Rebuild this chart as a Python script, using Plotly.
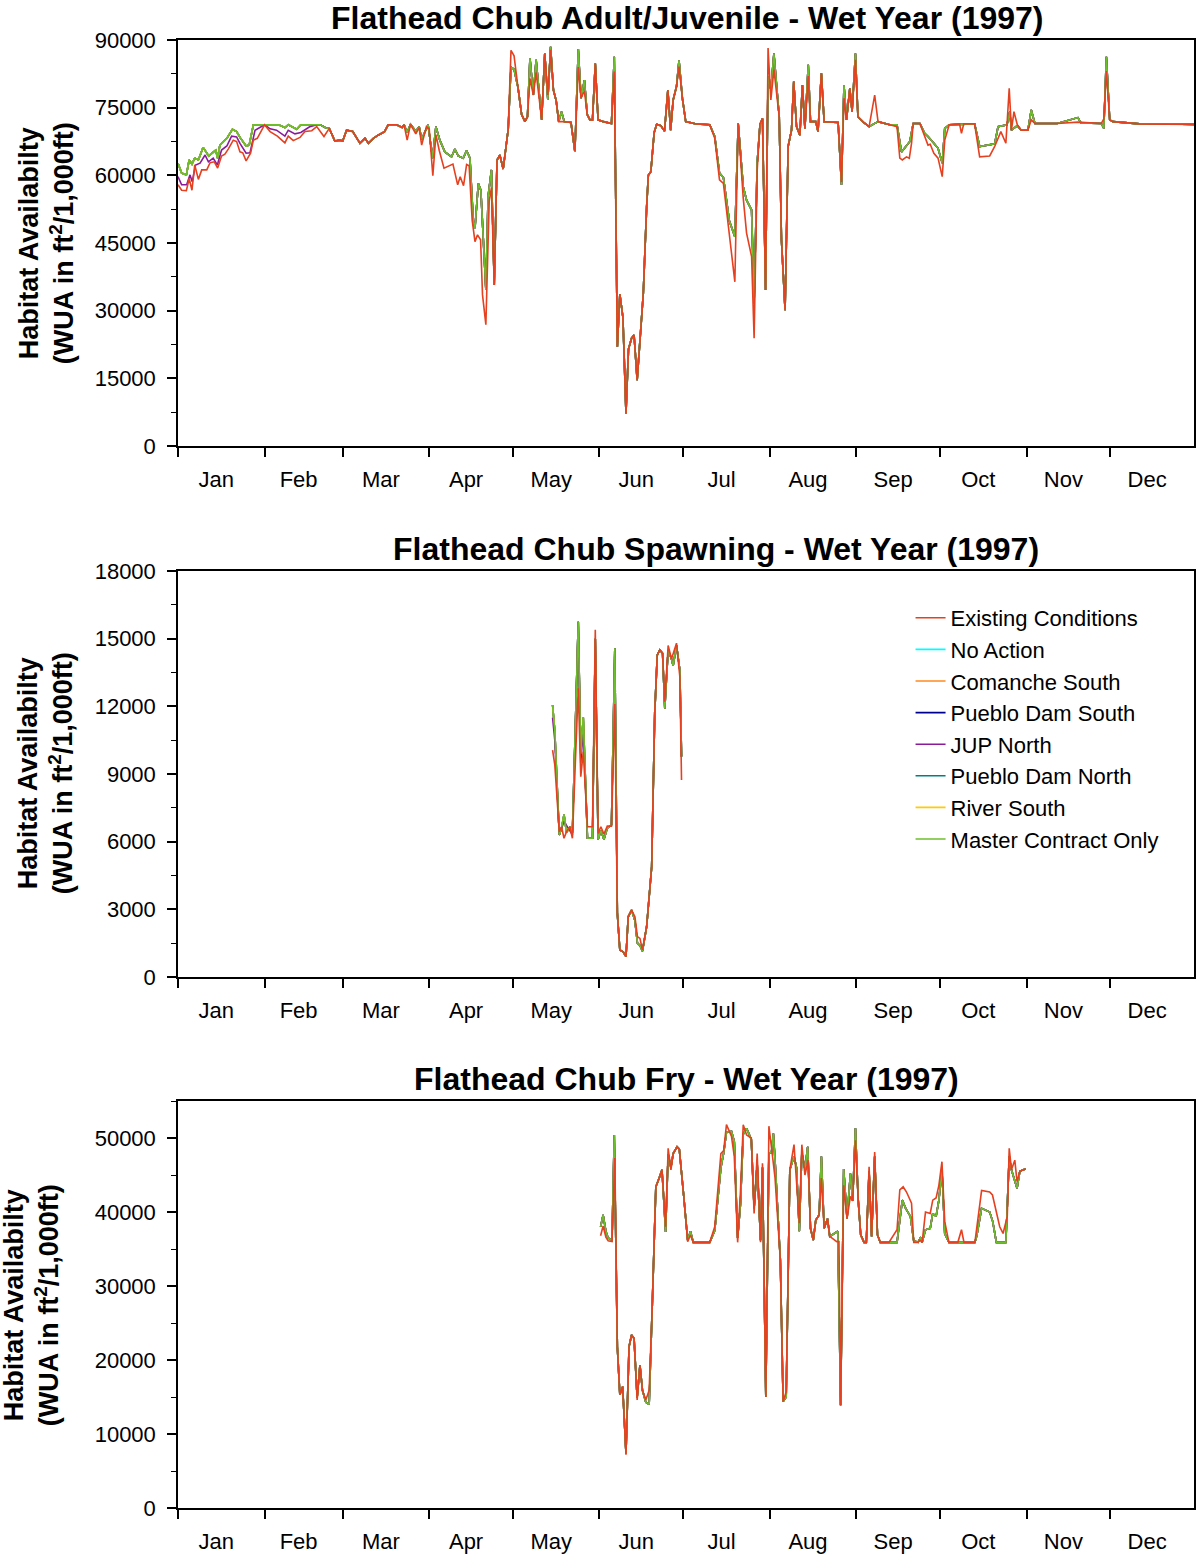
import pandas as pd
import plotly.graph_objects as go

FONT = "Liberation Sans, Arial, sans-serif"
YEAR_START = "1997-01-01"
YEAR_END = "1997-12-31"

SERIES_NAMES = ["Existing Conditions", "No Action", "Comanche South", "Pueblo Dam South",
                "JUP North", "Pueblo Dam North", "River South", "Master Contract Only"]
SERIES_COLORS = ["#E5401F", "#00FFFF", "#FF8A1E", "#000090",
                 "#8B1A9B", "#008080", "#FFCC00", "#6CBF2A"]

TITLES = ["Flathead Chub Adult/Juvenile - Wet Year (1997)",
          "Flathead Chub Spawning - Wet Year (1997)",
          "Flathead Chub Fry - Wet Year (1997)"]

# ---------------- Panel 1: Adult/Juvenile (day of year, WUA) ----------------
AJ_EC_DAY = [0, 1.3, 3, 4, 5, 6, 7.3, 8.5, 10.3, 11.5, 13, 14.2, 15.6, 16.8, 18, 19.8, 21, 22.2, 23.2, 24.4,
             26, 27, 28.4, 31, 33, 35.6, 38.3, 39.5, 41.3, 43.7, 45.5, 47.9, 49.7, 52.3, 54.2, 56.2, 58, 59,
             60.4, 62.6, 65.2, 67, 68.2, 70, 71.7, 74, 75.3, 78.3, 80.3, 81, 82.1, 83.3, 85.2, 86.4, 87.3, 89,
             90, 91.3, 92.4, 93.6, 95.3, 98.5, 100.2, 101.1, 102.3, 103.4, 104.3, 105.4, 106.4, 107.3, 108.4,
             109.1, 110.3, 111.5, 112.3, 113.3, 114.3, 115.3, 116.5, 117.4, 118.3, 119.3, 120.4, 121.8, 123.1,
             124.3, 125.2, 126.1, 127.3, 128.3, 130.3, 131.4, 132.5, 133.5, 134.5, 135.5, 136.4, 138.4, 140.8,
             142.2, 143.4, 144.4, 145.6, 146.6, 147.6, 148.5, 149.5, 150.5, 152.4, 155.3, 156.3, 157.4, 158.3,
             159.4, 160.5, 161.4, 162.5, 163.4, 164.5, 165.8, 166.7, 167.9, 168.5, 169.4, 170.6, 171.5, 173,
             174.3, 175.5, 176.5, 177.4, 178.6, 179.5, 180.7, 181.9, 185.7, 190.5, 192.3, 194, 195.4, 197.5,
             199.5, 200.7, 202.5, 203.7, 205.5, 206.4, 207.5, 208.5, 209.4, 210.5, 211.4, 212.4, 213.5, 215.4,
             216.2, 217.5, 218.6, 219.8, 220.6, 221.6, 222.8, 223.7, 224.6, 225.8, 226.6, 228.5, 229.3, 230.5,
             231.5, 236.5, 237.7, 238.6, 239.5, 240.7, 241.5, 242.7, 243.6, 245.5, 247.6, 249.6, 250.8, 255,
             257.6, 258.6, 259.5, 261, 262, 262.8, 263.4, 265.8, 267.5, 268.7, 269.5, 270.8, 272.3, 273.8,
             274.7, 276.3, 280, 280.7, 281.5, 285.4, 287.2, 290.8, 292.6, 294.8, 296.6, 297.8, 298.6, 299.5,
             300.7, 302.1, 304.5, 305.7, 307, 315, 322.4, 330.8, 331.7, 332.6, 333.8, 335, 344.5, 355, 364]
AJ_EC_WUA = [57900, 56700, 56600, 59300, 56700, 62300, 59100, 61200, 61200, 62800, 63000, 61600, 64300, 64700,
             65800, 67800, 67500, 65200, 65000, 63200, 64900, 67800, 68200, 71200, 69700, 68700, 67200, 68700,
             67700, 68400, 69700, 69900, 70800, 68600, 70400, 67600, 67800, 67600, 70000, 69700, 67100, 68200,
             67100, 68200, 68900, 69700, 71200, 71200, 70600, 71200, 67800, 71300, 69200, 70600, 66700, 70800,
             70300, 59900, 69000, 65500, 61600, 62500, 57900, 59700, 57700, 62400, 62100, 50000, 45300, 46800,
             45700, 33500, 26900, 54300, 57300, 35700, 63400, 64500, 61400, 65600, 70200, 87700, 86500, 79500,
             73500, 71900, 73000, 81500, 77800, 82800, 72300, 87000, 77800, 87800, 78900, 76500, 71900, 71900,
             71700, 65400, 84000, 77100, 78700, 73500, 72300, 72300, 84800, 72300, 71900, 71500, 83000, 22000,
             33700, 28500, 7200, 21500, 23900, 24600, 14600, 25700, 33800, 53000, 60000, 60800, 69500, 71300,
             71000, 69800, 78900, 70000, 76700, 79700, 84100, 77100, 71900, 71400, 71200, 68200, 59000, 58200,
             46800, 36400, 71500, 55000, 47200, 42000, 23900, 61000, 71500, 72600, 34600, 88200, 76700, 83400,
             73000, 45700, 30100, 66400, 70000, 80800, 70800, 68900, 80000, 70400, 82000, 71900, 71900, 69700,
             82600, 71900, 71700, 58500, 77100, 72300, 79300, 74100, 85600, 73000, 71800, 70800, 77800, 71900,
             71200, 70800, 63800, 63400, 64100, 63800, 67100, 71500, 71500, 68600, 66700, 66900, 64900, 63800,
             59700, 67800, 71200, 71400, 69300, 71400, 71400, 64100, 64300, 66400, 69700, 67100, 79300, 70000,
             74100, 71200, 70000, 70000, 72300, 71500, 71500, 71800, 71500, 72500, 83100, 72300, 71900, 71400,
             71400, 71300]

AJ_MC_DAY = [0, 1.3, 3, 4, 5, 6, 7.3, 9, 11, 13.5, 14.2, 15, 17.5, 19.5, 21, 22.2, 24.4, 25.5, 27, 31, 36, 38.3,
             39.5, 42.5, 44, 51, 53, 54.2, 56.2, 58, 59, 60.4, 62.6, 65.2, 67, 68.2, 70, 71.7, 74, 75.3, 78.3,
             80.3, 81, 82.1, 83.3, 85.2, 86.4, 87.3, 89.6, 91.2, 92.4, 93.8, 95.6, 98, 99.2, 100.4, 102.2, 103.4,
             104.6, 105.8, 106.4, 107.6, 108.5, 110.3, 111.1, 112.3, 113.3, 114.3, 115.3, 116.5, 117.4, 118.3,
             119.3, 120.4, 121.8, 123.1, 124.3, 125.2, 126.1, 127.3, 128.3, 130.3, 131.4, 132.5, 133.5, 134.5,
             135.5, 136.4, 137.4, 138.4, 140.8, 142.2, 143.4, 144.4, 145.6, 146.6, 147.6, 148.5, 149.5, 150.5,
             152.4, 155.3, 156.3, 157.4, 158.3, 159.4, 160.5, 161.4, 162.5, 163.4, 164.5, 165.8, 166.7, 167.9,
             168.5, 169.4, 170.6, 171.5, 173, 174.3, 175.5, 176.5, 177.4, 178.6, 179.5, 180.7, 181.9, 185.7,
             190.5, 192.3, 194, 195.4, 197.5, 199.5, 200.7, 202.5, 203.7, 205.5, 206.4, 207.5, 208.5, 209.4,
             210.5, 211.4, 212.4, 213.5, 215.4, 216.2, 217.5, 218.6, 219.8, 220.6, 221.6, 222.8, 223.7, 224.6,
             225.8, 226.6, 228.5, 229.3, 230.5, 231.5, 236.5, 237.7, 238.6, 239.5, 240.7, 241.5, 242.7, 243.6,
             245.5, 247.6, 250.8, 255, 257.6, 259.2, 262.2, 263.4, 265.8, 267.5, 268.7, 270.8, 272.3, 273.8,
             274.7, 276.3, 285.4, 287.2, 290.8, 292.6, 293.8, 297, 298, 298.6, 300.7, 302.1, 304.5, 305.7, 307,
             315, 322.4, 323.5, 330.8, 331.7, 332.6, 333.8, 335, 344.5, 355, 364]
AJ_MC_WUA = [62700, 60500, 60100, 63400, 62500, 63800, 63400, 66200, 64300, 65600, 63800, 66700, 68200, 70200,
             69700, 68400, 66500, 66700, 71200, 71200, 71200, 70600, 71200, 70200, 71200, 71200, 70500, 70400,
             67600, 67800, 67600, 70000, 69700, 67100, 68200, 67100, 68200, 68900, 69700, 71200, 71200, 70600,
             71200, 69500, 71300, 69800, 70800, 68000, 71200, 63800, 70800, 67800, 65200, 64100, 65800, 64300,
             63800, 65500, 63800, 49700, 48300, 58200, 56700, 34600, 55300, 61200, 35700, 63400, 64500, 61400,
             65600, 70200, 84000, 83500, 79500, 73500, 71900, 73000, 86000, 77800, 85600, 72300, 87000, 76700,
             88500, 78900, 76500, 71900, 74100, 71900, 71700, 65200, 88000, 77100, 81100, 73500, 72300, 72300,
             84800, 72300, 71900, 71500, 86300, 22000, 33700, 28500, 7200, 21500, 23900, 24600, 14600, 25700,
             33800, 53000, 60000, 60800, 69500, 71300, 71000, 69800, 78900, 70000, 76700, 79700, 85500, 77100,
             71900, 71400, 71200, 68600, 60500, 59500, 50000, 46400, 71500, 57500, 54500, 52300, 31600, 62700,
             71200, 72600, 34600, 82000, 79000, 87000, 73000, 45700, 30100, 66400, 70000, 80800, 70800, 68900,
             80000, 70400, 84500, 71900, 71900, 69700, 82600, 71900, 71700, 57900, 80000, 72300, 79300, 74100,
             87000, 73000, 71800, 70800, 71900, 71200, 71200, 65200, 67500, 71500, 71500, 69300, 68600, 67100,
             66000, 62700, 70400, 71200, 71400, 66400, 66700, 67000, 70800, 71200, 74100, 70000, 71000, 70000,
             70000, 74500, 71500, 71500, 72800, 71600, 71500, 70400, 86300, 72300, 71900, 71400, 71400, 71300]

AJ_JUP_EARLY_DAY = [0, 1.3, 3.1, 4.3, 5.1, 6.3, 7.9, 9.7, 10.9, 12.6, 14.1, 15.6, 17.5, 19.2, 21, 22.2, 24.4,
                    25.8, 27.6, 31, 33, 35.3, 38.3, 39.5, 41.9, 44, 47.3, 49.7]
AJ_JUP_EARLY_WUA = [59700, 57900, 57900, 60100, 58600, 62300, 62700, 64500, 63000, 63800, 62300, 65600, 66500,
                    68700, 68500, 67100, 64900, 65000, 70000, 71200, 70300, 70000, 68700, 70000, 69200, 69500,
                    70800, 71200]

# ---------------- Panel 2: Spawning ----------------
SP_EC_DAY = [134.2, 135, 136.6, 137.4, 138.3, 139.2, 140.4, 141.3, 143.4, 144.3, 145.2, 146.7, 148.5, 149.5,
             150.5, 151.5, 152.6, 153.8, 155.3, 156.5, 157.4, 158.3, 159.5, 160.5, 161.3, 162.5, 163.7, 164.6,
             165.5, 166.4, 167.9, 169.7, 170.8, 171.7, 172.6, 173.6, 174.4, 175.6, 176.8, 178.6, 179.8, 180.4]
SP_EC_WUA = [10060, 9400, 6440, 6660, 6150, 6440, 6660, 6150, 12800, 8880, 9990, 6660, 6660, 15400, 6370, 6660,
             6340, 6690, 6690, 12100, 2820, 1200, 1120, 900, 2670, 2970, 2670, 1790, 1710, 1200, 2230, 4890,
             11700, 14270, 14500, 14350, 12200, 14700, 14100, 14800, 13300, 8730]

SP_MC_DAY = [134.2, 135, 136.6, 137.4, 138.3, 139.2, 140.4, 141.3, 143.4, 144.3, 145.2, 146.7, 148.5, 149.5,
             150.5, 151.5, 152.6, 153.8, 155.3, 156.5, 157.4, 158.3, 159.5, 160.5, 161.3, 162.5, 163.7, 164.6,
             165.5, 166.4, 167.9, 169.7, 170.8, 171.7, 172.6, 173.6, 174.4, 175.6, 176.8, 177.4, 178.6, 179.8,
             180.4]
SP_MC_WUA = [12060, 10900, 6300, 6600, 7200, 6400, 6660, 6400, 15750, 9900, 11500, 6150, 6150, 15000, 6100,
             6500, 6100, 6600, 6750, 14570, 2820, 1200, 1120, 900, 2670, 2970, 2500, 1500, 1400, 1150, 2230,
             4890, 11700, 14270, 14500, 14350, 11900, 14500, 14100, 13800, 14700, 13600, 9770]

SP_JUP_DAY = [134.2, 135, 136.6, 138.3, 141.3, 143.4, 144.3, 145.2, 146.7]
SP_JUP_WUA = [11500, 10500, 6300, 6900, 6300, 15750, 9500, 11000, 6150]

# ---------------- Panel 3: Fry ----------------
FRY_EC_DAY = [151.4, 152.3, 153.3, 154.1, 155.5, 156.5, 157.4, 158.3, 159.3, 160.5, 161.6, 162.5, 163.4, 164.5,
              165.5, 166.4, 167.6, 168.8, 169.9, 171.2, 172.4, 173.4, 174.7, 175.6, 176.6, 177.4, 178.8, 179.6,
              181.2, 182.6, 183.6, 184.6, 190.5, 192.3, 194.5, 195.5, 196.5, 198.3, 199.3, 200.5, 201.5, 202.5,
              203.7, 205.4, 206.4, 207.5, 208.7, 209.4, 210.6, 211.7, 212.6, 213.9, 215.8, 216.8, 217.9, 219.2,
              220.7, 221.6, 222.6, 223.5, 224.6, 225.8, 226.6, 227.6, 228.5, 229.7, 230.5, 231.5, 232.7, 233.5,
              236, 236.8, 237.4, 238.5, 239.7, 240.9, 241.7, 242.7, 243.7, 244.6, 245.8, 246.6, 247.6, 248.5,
              249.6, 250.6, 251.6, 254.7, 256, 257.6, 258.6, 259.8, 261, 262.8, 263.6, 265.1, 265.8, 266.6,
              267.8, 269.5, 270.4, 271.6, 272.6, 273.7, 274.7, 276.2, 279.4, 280.7, 281.6, 285.5, 287.9, 290.8,
              291.8, 293, 294.4, 295.6, 297.1, 297.8, 298.6, 299.8, 300.6, 301.6, 302.8, 303.7]
FRY_EC_WUA = [36800, 38100, 36600, 36100, 36000, 47300, 21800, 15300, 16400, 7200, 21800, 23400, 22900, 14600,
              19300, 15900, 14600, 15900, 27200, 43400, 44600, 45700, 38000, 48600, 45700, 47900, 48800, 48500,
              42100, 36000, 36900, 35900, 35900, 38000, 47900, 48300, 51800, 50200, 47500, 35900, 42700, 51800,
              50400, 50000, 39800, 47900, 35900, 46600, 15000, 51600, 48800, 44600, 33500, 14400, 15700, 45700,
              49100, 44600, 38500, 49100, 45000, 47000, 37800, 36200, 38900, 39600, 44600, 37800, 39100, 36700,
              36000, 36000, 13900, 43600, 39100, 42100, 41500, 49700, 41600, 36900, 35900, 35900, 46100, 36700,
              48100, 36900, 35900, 35900, 36600, 37600, 43000, 43400, 42700, 41200, 35900, 35900, 36200, 35900,
              40000, 39800, 41600, 41900, 43600, 46800, 38700, 35900, 35900, 37600, 35900, 35900, 42900, 42700,
              42300, 40500, 38000, 37100, 39400, 48600, 45700, 47000, 44100, 45500, 45700, 45800]

FRY_MC_DAY = [151.4, 152.3, 153.3, 154.1, 155.5, 156.3, 157.4, 158.3, 159.3, 160.5, 161.6, 162.5, 163.4, 164.5,
              165.5, 166.4, 167.6, 168.8, 169.9, 171.2, 172.4, 173.4, 174.7, 175.6, 176.6, 177.4, 178.8, 179.6,
              181.2, 182.6, 183.6, 184.6, 190.5, 192.3, 194.5, 195.5, 196.5, 198.3, 199.3, 200.5, 201.5, 202.5,
              203.7, 205.4, 206.4, 207.5, 208.7, 209.4, 210.6, 211.7, 212.6, 213.3, 213.9, 215.8, 216.8, 217.9,
              219.2, 220.7, 221.6, 222.6, 223.5, 224.6, 225.6, 226.6, 227.6, 228.5, 229.7, 230.5, 231.5, 232.7,
              233.5, 236.4, 237.4, 238.5, 239.7, 240.9, 241.7, 242.7, 243.7, 244.6, 245.8, 246.6, 247.6, 248.5,
              249.6, 250.6, 251.6, 254.7, 257.6, 259.5, 260.7, 262.4, 263.6, 265.1, 266.1, 266.6, 267.8, 269.5,
              270.4, 271.6, 272.6, 273.7, 274.7, 276.2, 285.5, 286.2, 287.9, 290.8, 291.9, 293.2, 296.6, 297.8,
              298.6, 300.6, 301.6, 302.8, 303.7]
FRY_MC_WUA = [38000, 39600, 37400, 36500, 36200, 50400, 21800, 15300, 16400, 7400, 21800, 23400, 22900, 14900,
              19300, 15900, 14300, 14000, 27200, 43400, 44600, 45700, 37300, 47800, 46000, 47900, 48800, 48500,
              42100, 36200, 37400, 35900, 35900, 37500, 46000, 48000, 50800, 50900, 49500, 36500, 41000, 50500,
              51300, 49800, 40500, 46500, 36200, 46000, 15000, 48000, 48000, 50600, 47000, 33500, 14400, 15000,
              45700, 47500, 46000, 37400, 48000, 45800, 48800, 37800, 36200, 38900, 39600, 47500, 37800, 39100,
              36700, 37400, 13900, 45800, 39100, 45200, 41500, 51300, 41600, 36900, 35900, 35900, 45500, 36700,
              47500, 36900, 35900, 35900, 35900, 41600, 40500, 39400, 36100, 35900, 36600, 35900, 37600, 37800,
              39800, 39400, 41600, 45700, 37100, 35900, 35900, 36800, 40500, 40000, 38700, 35900, 35900, 47500,
              45700, 43200, 45500, 45700, 45800]

Y_RANGES = [[0, 90000], [0, 18000], [0, 55000]]
Y_DTICK = [15000, 3000, 10000]
Y_MINOR = [7500, 1500, 5000]


def to_dates(days):
    return pd.Timestamp(YEAR_START) + pd.to_timedelta(pd.Series(days, dtype=float), unit="D")


# JUP North: own readings where it departs from Master Contract, identical afterwards
AJ_JUP_DAY = AJ_JUP_EARLY_DAY + [d for d in AJ_MC_DAY if d > 50]
AJ_JUP_WUA = AJ_JUP_EARLY_WUA + [v for d, v in zip(AJ_MC_DAY, AJ_MC_WUA) if d > 50]
SP_JUP_FULL_DAY = SP_JUP_DAY + [d for d in SP_MC_DAY if d > 146.7]
SP_JUP_FULL_WUA = SP_JUP_WUA + [v for d, v in zip(SP_MC_DAY, SP_MC_WUA) if d > 146.7]

PANELS = [
    {"Existing Conditions": (AJ_EC_DAY, AJ_EC_WUA), "No Action": (AJ_MC_DAY, AJ_MC_WUA),
     "Comanche South": (AJ_MC_DAY, AJ_MC_WUA), "Pueblo Dam South": (AJ_MC_DAY, AJ_MC_WUA),
     "JUP North": (AJ_JUP_DAY, AJ_JUP_WUA), "Pueblo Dam North": (AJ_MC_DAY, AJ_MC_WUA),
     "River South": (AJ_MC_DAY, AJ_MC_WUA), "Master Contract Only": (AJ_MC_DAY, AJ_MC_WUA)},
    {"Existing Conditions": (SP_EC_DAY, SP_EC_WUA), "No Action": (SP_MC_DAY, SP_MC_WUA),
     "Comanche South": (SP_MC_DAY, SP_MC_WUA), "Pueblo Dam South": (SP_MC_DAY, SP_MC_WUA),
     "JUP North": (SP_JUP_FULL_DAY, SP_JUP_FULL_WUA), "Pueblo Dam North": (SP_MC_DAY, SP_MC_WUA),
     "River South": (SP_MC_DAY, SP_MC_WUA), "Master Contract Only": (SP_MC_DAY, SP_MC_WUA)},
    {"Existing Conditions": (FRY_EC_DAY, FRY_EC_WUA), "No Action": (FRY_MC_DAY, FRY_MC_WUA),
     "Comanche South": (FRY_MC_DAY, FRY_MC_WUA), "Pueblo Dam South": (FRY_MC_DAY, FRY_MC_WUA),
     "JUP North": (FRY_MC_DAY, FRY_MC_WUA), "Pueblo Dam North": (FRY_MC_DAY, FRY_MC_WUA),
     "River South": (FRY_MC_DAY, FRY_MC_WUA), "Master Contract Only": (FRY_MC_DAY, FRY_MC_WUA)},
]

DRAW_ORDER = ["No Action", "Comanche South", "Pueblo Dam South", "Pueblo Dam North",
              "River South", "JUP North", "Master Contract Only", "Existing Conditions"]

fig = go.Figure()
for p, panel in enumerate(PANELS):
    ax = "" if p == 0 else str(p + 1)
    for name in DRAW_ORDER:
        days, vals = panel[name]
        idx = SERIES_NAMES.index(name)
        fig.add_trace(go.Scatter(
            x=to_dates(days), y=vals, mode="lines", name=name,
            line=dict(color=SERIES_COLORS[idx], width=1.6),
            xaxis="x" + ax, yaxis="y" + ax,
            showlegend=(p == 1), legendrank=idx + 1, hoverinfo="skip"))

W, H = 1197, 1555
L, R, T, B = 178, 1, 40, 47
PW, PH = W - L - R, H - T - B


def py(pix):
    return (H - B - pix) / PH


def px(pix):
    return (pix - L) / PW


DOMAINS = [[py(446), py(40)], [py(977), py(571)], [py(1508), py(1101)]]

tickfont = dict(family=FONT, size=22, color="black")
layout = dict(width=W, height=H, margin=dict(l=L, r=R, t=T, b=B),
              paper_bgcolor="white", plot_bgcolor="white", font=dict(family=FONT, color="black"),
              legend=dict(x=px(912), y=py(597), xanchor="left", yanchor="top",
                          font=dict(family=FONT, size=22, color="black"),
                          bgcolor="rgba(0,0,0,0)", borderwidth=0, tracegroupgap=0),
              showlegend=True)

for p in range(3):
    ax = "" if p == 0 else str(p + 1)
    layout["xaxis" + ax] = dict(
        type="date", range=[YEAR_START, YEAR_END], dtick="M1", tick0=YEAR_START,
        tickformat="%b", ticklabelmode="period", ticks="outside", ticklen=9, tickwidth=1.5,
        tickcolor="black", showline=True, linecolor="black", linewidth=1.5, mirror=True,
        showgrid=False, zeroline=False, tickfont=tickfont, ticklabelstandoff=4, ticklabelshift=-5,
        anchor="y" + ax, domain=[0, 1], fixedrange=True)
    layout["yaxis" + ax] = dict(
        range=Y_RANGES[p], dtick=Y_DTICK[p], tick0=0, ticks="outside", ticklen=9, tickwidth=1.5,
        tickcolor="black", showline=True, linecolor="black", linewidth=1.5, mirror=True,
        showgrid=False, zeroline=False, tickfont=tickfont, tickformat="d", ticklabelstandoff=7,
        minor=dict(dtick=Y_MINOR[p], tick0=0, ticks="outside", ticklen=5, tickwidth=1.2,
                   tickcolor="black", showgrid=False),
        anchor="x" + ax, domain=DOMAINS[p], fixedrange=True)

TITLE_POS = [(688, 18), (717, 549), (687, 1079)]
YTITLE_POS = [(46, 243), (45, 773), (31, 1305)]
annotations = []
for p in range(3):
    annotations.append(dict(text="<b>" + TITLES[p] + "</b>", xref="paper", yref="paper",
                            x=px(TITLE_POS[p][0]), y=py(TITLE_POS[p][1]), xanchor="center",
                            yanchor="middle", showarrow=False,
                            font=dict(family=FONT, size=32, color="black")))
    annotations.append(dict(text="<b>Habitat Availabilty<br>(WUA in ft<sup>2</sup>/1,000ft)</b>",
                            xref="paper", yref="paper", x=px(YTITLE_POS[p][0]), y=py(YTITLE_POS[p][1]),
                            xanchor="center", yanchor="middle", textangle=-90, showarrow=False,
                            font=dict(family=FONT, size=27, color="black")))
layout["annotations"] = annotations

fig.update_layout(**layout)
fig.write_html("out.html", config={"displayModeBar": False},
               post_script="document.body.style.margin='0px';")
